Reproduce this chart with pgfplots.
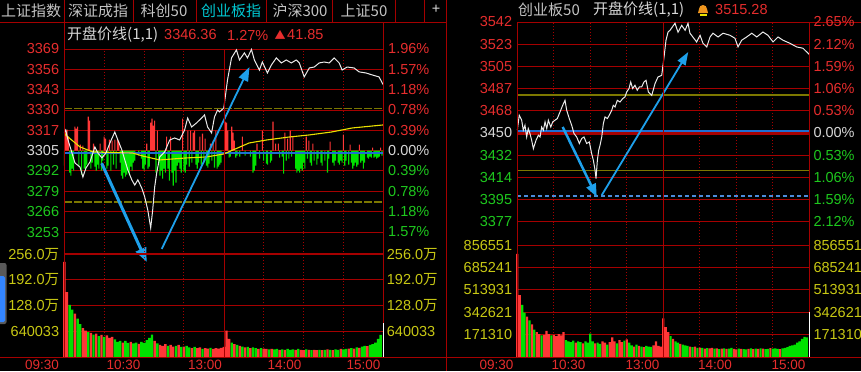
\documentclass[border=0pt]{standalone}
\usepackage{fontspec}
\setmainfont{Liberation Sans}
\newfontfamily\cjk{Noto Sans CJK SC}
\usepackage{pgfplots}
\pgfplotsset{compat=1.18}
\usetikzlibrary{arrows.meta}
\definecolor{gridred}{RGB}{165,0,0}
\definecolor{lred}{RGB}{230,45,45}
\definecolor{lgreen}{RGB}{30,200,30}
\definecolor{lwhite}{RGB}{215,215,215}
\definecolor{lyel}{RGB}{200,200,20}
\definecolor{olive2}{RGB}{125,120,0}
\definecolor{openblue}{RGB}{30,110,210}
\definecolor{arrowblue}{RGB}{30,160,235}
\definecolor{vred}{RGB}{255,55,55}
\definecolor{vgreen}{RGB}{0,225,0}
\definecolor{avgyel}{RGB}{235,225,0}
\definecolor{tabgray}{RGB}{195,195,195}
\definecolor{tabcyan}{RGB}{0,200,210}
\definecolor{pline}{RGB}{235,235,235}
\definecolor{bellor}{RGB}{240,150,30}
\newcommand\numfont{\fontsize{14.5bp}{16bp}\selectfont}
\newcommand\cjkfont{\fontsize{15bp}{17bp}\selectfont\cjk}
\pgfplotsset{
 panel/.style={scale only axis, anchor=south west, clip=false,
   axis line style={draw=none}, major tick length=0pt,
   xmin=0, xmax=240, xtick={30,60,90,150,180,210}, xticklabel=\empty,
   xmajorgrids, ymajorgrids,
   x grid style={gridred, line width=0.9bp, dash pattern=on 1bp off 2bp},
   y grid style={gridred, line width=1bp},
   yticklabel style={font=\numfont, inner sep=0pt, anchor=east, xshift=-5bp}},
 over/.style={scale only axis, anchor=south west, clip=false, hide axis, xmin=0, xmax=240},
}
\begin{document}
\begin{tikzpicture}
\begin{scope}[x=1bp,y=-1bp]
\fill[black] (0,0) rectangle (861,371);
\end{scope}

%% ---------------- LEFT PANEL: price grid ----------------
\begin{axis}[panel, at={(64.3bp,-232bp)}, width=319bp, height=183bp,
 ymin=3252.69, ymax=3369.28,
 ytick={3252.69,3265.65,3278.60,3291.56,3304.51,3317.46,3330.42,3343.37,3356.33,3369.28},
 yticklabels={\textcolor{lgreen}{3253},\textcolor{lgreen}{3266},\textcolor{lgreen}{3279},\textcolor{lgreen}{3292},\textcolor{lwhite}{3305},\textcolor{lred}{3317},\textcolor{lred}{3330},\textcolor{lred}{3343},\textcolor{lred}{3356},\textcolor{lred}{3369}}]
\addplot[olive2, line width=1.3bp, dash pattern=on 8bp off 2bp] coordinates {(0,3331.3) (240,3331.3)};
\addplot[olive2, line width=1.3bp, dash pattern=on 8bp off 2bp] coordinates {(0,3271.8) (240,3271.8)};
\end{axis}

%% indicator bars (relative units, 0 = previous close)
\begin{axis}[over, at={(64.3bp,-232bp)}, width=319bp, height=183bp, ymin=-81.3, ymax=101.7]
\addplot[ybar, bar width=1.1bp, bar shift=0pt, fill=vred, draw=none] coordinates {
(1,20)(2,21)(3,14)(8,24)(9,22)(10,24)(12,6)(14,5)(18,34)(19,30)(22,7)(27,7)(30,14)(31,12)(34,11)(36,10)(38,11)(40,11)(41,9)(62,7)(65,28)(66,32)(67,25)(68,30)(70,20)(77,14)(80,14)(89,32)(93,20)(95,20)(97,18)(98,20)(102,14)(104,17)(106,12)(110,7)(112,10)(114,20)(121,29)(122,28)(123,20)(126,24)(127,18)(128,10)(134,14)(145,7)(149,20)(157,29)(159,7)(161,7)(166,18)(168,12)(170,20)(172,14)(182,14)(184,10)(187,7)(200,9)(210,16)(215,6)(222,6)(232,3)(238,3)};
\addplot[ybar, bar width=1.1bp, bar shift=0pt, fill=vgreen, draw=none] coordinates {
(0,-15)(4,-22)(5,-25)(6,-18)(7,-20)(11,-16)(13,-24)(15,-18)(16,-20)(17,-14)(20,-18)(21,-12)(23,-16)(24,-20)(25,-14)(26,-18)(28,-20)(29,-10)(32,-18)(33,-15)(35,-20)(37,-14)(39,-18)(42,-12)(43,-25)(44,-28)(45,-22)(46,-26)(47,-24)(48,-20)(49,-25)(50,-16)(51,-20)(52,-12)(53,-10)(56,-5)(58,-8)(59,-18)(60,-20)(61,-14)(63,-18)(64,-16)(69,-22)(71,-12)(72,-25)(73,-20)(74,-28)(75,-18)(76,-22)(78,-18)(79,-30)(81,-22)(82,-35)(83,-20)(84,-32)(85,-15)(86,-12)(87,-18)(88,-22)(90,-20)(91,-22)(92,-14)(94,-16)(96,-12)(99,-14)(100,-18)(101,-12)(103,-14)(105,-12)(107,-15)(108,-17)(109,-13)(111,-10)(113,-17)(115,-18)(116,-16)(117,-14)(118,-12)(124,-7)(125,-6)(129,-7)(130,-5)(132,-6)(136,-5)(140,-6)(142,-22)(143,-20)(144,-15)(147,-8)(150,-10)(152,-13)(153,-14)(155,-12)(156,-10)(162,-7)(164,-6)(165,-23)(167,-10)(169,-8)(171,-6)(174,-18)(175,-22)(176,-20)(177,-22)(178,-18)(179,-20)(180,-12)(181,-18)(183,-8)(185,-12)(186,-15)(188,-10)(190,-14)(191,-8)(193,-12)(194,-15)(196,-10)(198,-22)(199,-8)(202,-12)(203,-15)(204,-10)(206,-12)(207,-14)(208,-10)(209,-12)(211,-15)(212,-10)(214,-14)(216,-12)(217,-18)(218,-15)(219,-12)(220,-16)(221,-14)(223,-12)(224,-10)(225,-18)(226,-12)(228,-7)(229,-8)(230,-6)(231,-7)(233,-7)(234,-6)(235,-8)(236,-7)(237,-6)(239,-5)};
\end{axis}

%% price lines
\begin{axis}[over, at={(64.3bp,-232bp)}, width=319bp, height=183bp, ymin=3252.69, ymax=3369.28]
\addplot[openblue, line width=2bp] coordinates {(0,3302.85) (240,3302.85)};
\addplot[avgyel, line width=1.1bp] coordinates {(0,3316.0)(1,3314.5)(11.8,3306.9)(21.5,3303.7)(51.5,3303.0)(59,3301.1)(71.8,3298.6)(92,3299.9)(107,3300.5)(120,3302.4)(139,3309.4)(152,3311.3)(169,3313.2)(184,3314.5)(201,3316.4)(216.8,3319.0)(240,3320.9)};
\addplot[pline, line width=1bp] coordinates {
(0,3316.0)(1.05,3317.7)(2.8,3311.3)(5.8,3303.0)(8.0,3296.7)(11.8,3294.1)(14.0,3287.7)(16.3,3293.5)(19.3,3297.3)(23.0,3306.9)(25.3,3303.0)(28.3,3299.9)(31.3,3303.0)(34.3,3309.4)(38.0,3316.4)(40.3,3311.3)(43.3,3305.0)(45.5,3298.6)(47.8,3292.2)(50.8,3285.9)(53.0,3282.6)(55.3,3285.9)(58.3,3280.7)(60.5,3275.0)(62.8,3266.7)(65.0,3255.3)(66.5,3266.7)(68.0,3281.4)(69.5,3290.3)(71.8,3300.5)(75.5,3303.7)(79.3,3311.3)(83.0,3312.6)(86.8,3311.3)(90.5,3317.7)(92.8,3325.3)(95.8,3319.6)(99.5,3322.2)(103.3,3325.3)(105.5,3327.3)(107.8,3319.6)(110.8,3315.8)(113.0,3326.0)(115.3,3330.4)(116.8,3329.2)(120.0,3331.7)(122.8,3349.6)(125.8,3363.6)(129.5,3368.7)(131.8,3362.3)(135.5,3366.8)(137.8,3363.6)(140.8,3369.0)(143.0,3362.3)(146.8,3355.9)(149.0,3361.0)(152.8,3354.0)(155.8,3359.1)(159.5,3363.6)(163.3,3360.4)(167.0,3362.3)(170.8,3360.4)(174.5,3362.3)(176.8,3360.4)(180.5,3351.5)(184.3,3357.2)(188.0,3357.8)(191.8,3360.4)(195.5,3361.0)(199.3,3360.4)(203.0,3363.6)(206.8,3360.4)(209.0,3355.9)(212.8,3357.8)(218.0,3357.2)(221.8,3354.7)(227.0,3354.0)(231.5,3352.8)(236.8,3351.5)(240,3346.4)};
\addplot[arrowblue, line width=3bp, -{Triangle[length=14bp,width=11bp]}] coordinates {(28.1,3296.5) (62.0,3233.6)};
\addplot[arrowblue, line width=1.8bp, -{Triangle[length=14bp,width=10bp]}] coordinates {(73.3,3241.9) (139.3,3357.8)};
\end{axis}

%% ---------------- LEFT PANEL: volume ----------------
\begin{axis}[panel, at={(64.3bp,-357bp)}, width=319bp, height=125bp,
 ymin=0, ymax=311.6, ytick={64.0033,128,192,256},
 yticklabels={\textcolor{lyel}{640033},\textcolor{lyel}{128.0{\cjk 万}},\textcolor{lyel}{192.0{\cjk 万}},\textcolor{lyel}{256.0{\cjk 万}}}]
\addplot[ybar, bar width=2.4bp, bar shift=0pt, fill=vred, draw=none] coordinates {
(0,237)(2,162)(8,108)(14,72)(16,66)(20,60)(24,58)(28,55)(32,54)(34,48)(36,50)(44,36)(50,38)(56,33)(68,40)(72,30)(74,28)(76,32)(80,30)(82,26)(86,30)(90,26)(96,22)(100,22)(102,24)(106,22)(108,21)(112,20)(114,22)(116,21)(118,23)(120,25)(122,66)(124,45)(128,32)(132,28)(136,24)(140,22)(146,20)(150,21)(152,20)(156,20)(162,18)(166,18)(174,18)(178,18)(180,17)(184,18)(188,18)(190,17)(194,17)(198,19)(202,17)(208,20)(214,21)(218,21)(222,23)(228,27)};
\addplot[ybar, bar width=2.4bp, bar shift=0pt, fill=vgreen, draw=none] coordinates {
(4,130)(6,118)(10,96)(12,82)(18,62)(22,56)(26,52)(30,50)(38,44)(40,38)(42,40)(46,40)(48,35)(52,34)(54,36)(58,38)(60,35)(62,42)(64,48)(66,56)(70,34)(78,28)(84,28)(88,25)(92,28)(94,24)(98,25)(104,20)(110,23)(126,36)(130,30)(134,26)(138,25)(142,24)(144,22)(148,22)(154,19)(158,19)(160,20)(164,19)(168,20)(170,18)(172,19)(176,20)(182,19)(186,17)(192,18)(196,18)(200,18)(204,19)(206,18)(210,19)(212,20)(216,22)(220,24)(224,26)(226,28)(230,30)(232,32)(234,36)(236,45)(238,55)};
\end{axis}

%% ---------------- RIGHT PANEL: price ----------------
\begin{axis}[panel, at={(517.3bp,-221.7bp)}, width=292bp, height=199.7bp,
 ymin=3377.45, ymax=3542.04,
 ytick={3377.45,3395.74,3414.02,3432.31,3450.60,3468.89,3487.18,3505.46,3523.75,3542.04},
 yticklabels={\textcolor{lgreen}{3377},\textcolor{lgreen}{3395},\textcolor{lgreen}{3414},\textcolor{lgreen}{3432},\textcolor{lwhite}{3450},\textcolor{lred}{3468},\textcolor{lred}{3487},\textcolor{lred}{3505},\textcolor{lred}{3523},\textcolor{lred}{3542}}]
\addplot[olive2, line width=1.3bp] coordinates {(0,3481.9) (240,3481.9)};
\addplot[olive2, line width=1.3bp] coordinates {(0,3419.9) (240,3419.9)};
\addplot[gridred, line width=2bp] coordinates {(0,3449.6) (240,3449.6)};
\addplot[openblue, line width=2bp] coordinates {(0,3452.3) (240,3452.3)};
\addplot[openblue!80!white, line width=1.2bp, dash pattern=on 4bp off 3bp] coordinates {(0,3398.7) (240,3398.7)};
\addplot[pline, line width=1bp] coordinates {
(0,3452.8)(1.6,3465.2)(3.6,3461.1)(4.9,3452.8)(6.3,3457.0)(7.7,3447.3)(9.0,3454.2)(10.4,3450.1)(11.8,3444.6)(13.2,3437.7)(15.4,3444.6)(17.3,3448.7)(18.7,3447.3)(20.0,3455.5)(21.4,3452.8)(22.8,3459.7)(24.2,3454.2)(25.5,3461.1)(27.5,3455.5)(29.1,3459.7)(31.0,3461.1)(32.9,3462.5)(35.1,3467.9)(37.3,3473.4)(39.2,3477.5)(40.6,3469.3)(42.7,3462.5)(44.7,3456.9)(46.6,3450.1)(48.8,3447.3)(51.0,3441.9)(52.9,3446.0)(54.8,3447.3)(57.0,3441.9)(59.2,3443.2)(61.1,3433.6)(62.5,3428.1)(63.9,3419.9)(64.7,3413.0)(65.8,3428.1)(66.9,3436.3)(68.0,3440.5)(69.4,3447.3)(70.7,3458.3)(72.1,3463.8)(74.0,3462.5)(75.6,3465.2)(77.6,3469.3)(78.9,3473.4)(80.3,3472.0)(82.2,3477.5)(84.4,3476.1)(86.6,3478.9)(88.5,3480.3)(89.9,3484.4)(91.8,3487.2)(93.2,3492.6)(94.8,3487.2)(96.7,3489.9)(98.6,3485.8)(100.3,3488.5)(102.2,3488.5)(104.1,3492.6)(105.8,3494.0)(107.7,3484.4)(110.5,3481.6)(113.2,3491.3)(115.6,3496.7)(118.7,3498.1)(120.6,3513.2)(122.2,3527.0)(123.9,3533.8)(125.5,3535.2)(129.6,3541.0)(132.1,3533.6)(135.1,3539.3)(137.9,3535.2)(140.3,3541.0)(141.9,3532.8)(144.4,3529.5)(147.4,3525.6)(150.2,3531.1)(152.6,3524.5)(155.7,3521.5)(158.4,3529.7)(160.8,3532.8)(165.0,3529.7)(169.1,3532.8)(174.8,3531.1)(178.9,3528.6)(181.4,3521.5)(184.4,3527.0)(188.5,3529.7)(192.7,3532.8)(196.8,3529.7)(201.9,3533.8)(206.0,3531.1)(210.2,3525.6)(214.3,3529.7)(218.4,3527.0)(224.1,3524.5)(229.6,3521.5)(234.8,3520.4)(240,3515.3)};
\addplot[arrowblue, line width=2.5bp, -{Triangle[length=13bp,width=10bp]}] coordinates {(37.3,3455.5) (65.3,3397.9)};
\addplot[arrowblue, line width=1.8bp, -{Triangle[length=13bp,width=9bp]}] coordinates {(69.4,3399.3) (140.5,3517.3)};
\end{axis}

%% ---------------- RIGHT PANEL: volume ----------------
\begin{axis}[panel, at={(517.3bp,-357bp)}, width=292bp, height=135.3bp,
 ymin=0, ymax=1037530, ytick={171310,342621,513931,685241,856551},
 yticklabels={\textcolor{lyel}{171310},\textcolor{lyel}{342621},\textcolor{lyel}{513931},\textcolor{lyel}{685241},\textcolor{lyel}{856551}}]
\addplot[ybar, bar width=2.2bp, bar shift=0pt, fill=vred, draw=none] coordinates {
(0,790000)(2,475000)(8,310000)(12,250000)(16,190000)(18,175000)(22,170000)(24,200000)(26,175000)(30,170000)(32,160000)(34,175000)(36,165000)(38,190000)(48,110000)(54,105000)(64,105000)(70,120000)(72,110000)(76,115000)(78,150000)(80,120000)(84,130000)(86,115000)(90,135000)(96,80000)(100,85000)(104,75000)(112,90000)(114,120000)(116,85000)(118,80000)(120,297000)(122,230000)(124,190000)(128,140000)(134,100000)(142,80000)(146,80000)(150,72000)(154,65000)(158,66000)(160,70000)(164,66000)(168,64000)(172,62000)(178,62000)(180,58000)(184,62000)(190,62000)(194,60000)(198,62000)(202,64000)(208,68000)(216,60000)};
\addplot[ybar, bar width=2.2bp, bar shift=0pt, fill=vgreen, draw=none] coordinates {
(4,400000)(6,340000)(10,280000)(14,210000)(20,165000)(28,165000)(40,130000)(42,120000)(44,115000)(46,125000)(50,120000)(52,115000)(56,120000)(58,110000)(60,180000)(62,120000)(66,110000)(68,100000)(74,95000)(82,105000)(88,125000)(92,110000)(94,90000)(98,95000)(102,80000)(106,85000)(108,80000)(110,78000)(126,160000)(130,120000)(132,110000)(136,95000)(138,90000)(140,85000)(144,75000)(148,70000)(152,70000)(156,68000)(162,64000)(166,60000)(170,66000)(174,65000)(176,70000)(182,64000)(186,60000)(188,58000)(192,66000)(196,64000)(200,66000)(204,60000)(206,62000)(210,64000)(212,66000)(214,62000)(218,66000)(220,70000)(222,75000)(224,85000)(226,90000)(228,95000)(230,110000)(232,120000)(234,140000)(236,155000)(238,150000)};
\end{axis}

%% ---------------- frame, tabs, titles, side labels ----------------
\begin{scope}[x=1bp,y=-1bp]
\begin{scope}[gridred, line width=1bp]
\draw (0,22)--(447,22); \draw (809,22)--(861,22);
\foreach \x in {133.3,196,266.7,332.7,395,424.3} \draw (\x,0)--(\x,22);
\draw (64.3,0)--(64.3,357);
\draw (383.3,22)--(383.3,357);
\draw (446.7,0)--(446.7,371);
\draw (517.3,22)--(517.3,357);
\draw (809.3,22)--(809.3,357);
\draw (224.3,49)--(224.3,357);
\draw (663.3,22)--(663.3,357);
\draw (0,357)--(861,357);
\draw[line width=2bp] (64.3,254.3)--(383.3,254.3);
\end{scope}
\draw[white, line width=1.2bp] (383.3,323)--(383.3,357);
\draw[white, line width=1.2bp] (809.3,312)--(809.3,357);
% scroll element
\fill[black!65, rounded corners=2bp] (-3,263) rectangle (6.5,324);
\fill[blue!60!cyan!80!white, rounded corners=1.5bp] (-2,276) rectangle (5,322);
% tabs
\node[text=tabgray, font=\cjkfont] at (31,10.5) {上证指数};
\node[text=tabgray, font=\cjkfont] at (98,10.5) {深证成指};
\node[text=tabgray, font=\cjkfont] at (164,10.5) {科创50};
\node[text=tabcyan, font=\cjkfont] at (231,10.5) {创业板指};
\node[text=tabgray, font=\cjkfont] at (300,10.5) {沪深300};
\node[text=tabgray, font=\cjkfont] at (364,10.5) {上证50};
\node[text=lwhite, font=\numfont] at (436,9.5) {+};
% left title
\node[anchor=west, inner sep=0pt, text=lwhite, font=\cjkfont] at (67,35) {开盘价线(1,1)};
\node[anchor=west, inner sep=0pt, text=lred, font=\numfont] at (164,35) {3346.36};
\node[anchor=west, inner sep=0pt, text=lred, font=\numfont] at (227,35) {1.27\%};
\node[inner sep=0pt, text=lred, font=\fontsize{11bp}{12bp}\selectfont\cjk] at (280,35) {▲};
\node[anchor=west, inner sep=0pt, text=lred, font=\numfont] at (287,35) {41.85};
% right title
\node[anchor=west, inner sep=0pt, text=tabgray, font=\cjkfont] at (518,10) {创业板50};
\node[anchor=west, inner sep=0pt, text=lwhite, font=\cjkfont] at (593,10) {开盘价线(1,1)};
\fill[bellor] (698,13) -- (699,9) arc[start angle=180, end angle=360, radius=4] -- (708,13) -- cycle;
\fill[avgyel] (699.5,13.5) rectangle (706.5,15.5);
\node[anchor=west, inner sep=0pt, text=lred, font=\numfont] at (715,9.5) {3515.28};
% left panel right labels
\foreach \y/\t in {49/1.96,69.3/1.57,89.7/1.18,110.0/0.78,130.3/0.39}
  \node[anchor=west, inner sep=0pt, text=lred, font=\numfont] at (388,\y) {\t\%};
\node[anchor=west, inner sep=0pt, text=lwhite, font=\numfont] at (388,150.7) {0.00\%};
\foreach \y/\t in {171.0/0.39,191.3/0.78,211.7/1.18,232.0/1.57}
  \node[anchor=west, inner sep=0pt, text=lgreen, font=\numfont] at (388,\y) {\t\%};
\node[anchor=west, inner sep=0pt, text=lyel, font=\numfont] at (386.7,254.3) {256.0{\cjk 万}};
\node[anchor=west, inner sep=0pt, text=lyel, font=\numfont] at (386.7,280.0) {192.0{\cjk 万}};
\node[anchor=west, inner sep=0pt, text=lyel, font=\numfont] at (386.7,305.7) {128.0{\cjk 万}};
\node[anchor=west, inner sep=0pt, text=lyel, font=\numfont] at (386.7,331.3) {640033};
% right panel right labels
\foreach \y/\t in {22/2.65,44.2/2.12,66.4/1.59,88.6/1.06,110.8/0.53}
  \node[anchor=west, inner sep=0pt, text=lred, font=\numfont] at (813.3,\y) {\t\%};
\node[anchor=west, inner sep=0pt, text=lwhite, font=\numfont] at (813.3,132.9) {0.00\%};
\foreach \y/\t in {155.1/0.53,177.3/1.06,199.5/1.59,221.7/2.12}
  \node[anchor=west, inner sep=0pt, text=lgreen, font=\numfont] at (813.3,\y) {\t\%};
\foreach \y/\t in {245.3/856551,267.6/685241,290.0/513931,312.3/342621,334.7/171310}
  \node[anchor=west, inner sep=0pt, text=lyel, font=\numfont] at (813.3,\y) {\t};
% time labels
\foreach \x/\t in {42/09:30,123.5/10:30,205/13:00,284.5/14:00,363.5/15:00,496.5/09:30,568.5/10:30,642.5/13:00,715/14:00,788.5/15:00}
  \node[anchor=base, inner sep=0pt, text=lred, font=\fontsize{13.5bp}{15bp}\selectfont] at (\x,369.8) {\t};
\pgfresetboundingbox
\path[use as bounding box] (0,0) rectangle (861,371);
\end{scope}
\end{tikzpicture}
\end{document}
